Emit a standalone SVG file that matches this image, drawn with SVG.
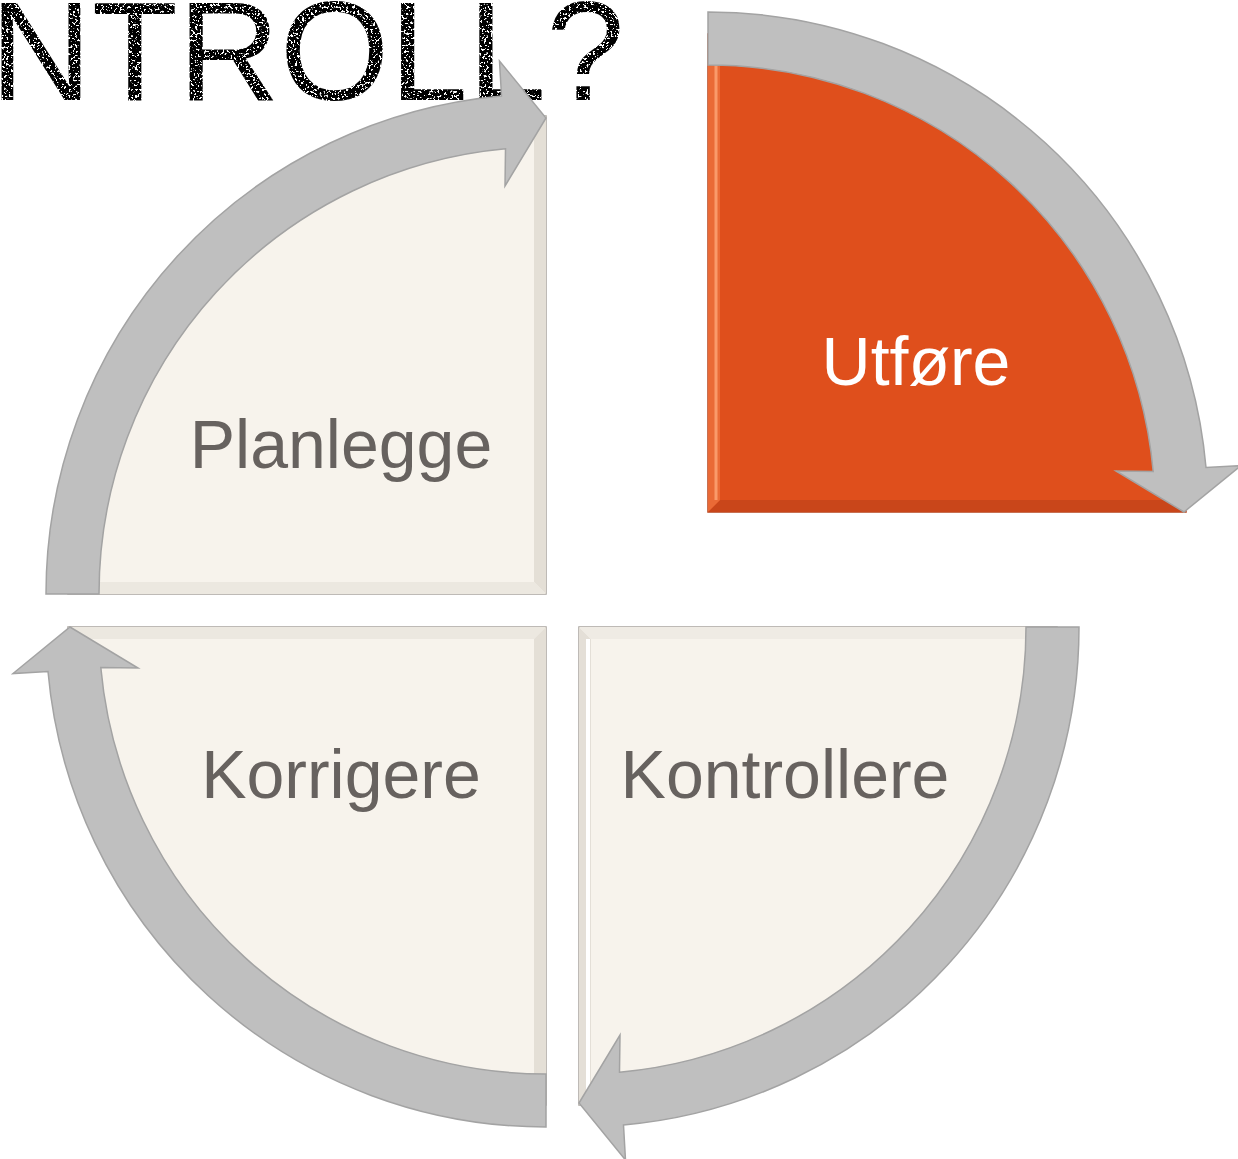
<svg xmlns="http://www.w3.org/2000/svg" width="1238" height="1159" viewBox="0 0 1238 1159">
<defs>
<style>
.sec{fill:#F7F3EC;stroke:#A9A49E;stroke-width:1.5}
.sec-hot{fill:#DF4F1C;stroke:#B5411A;stroke-width:1.5}
.arrow{fill:#BFBFBF;stroke:#A3A3A3;stroke-width:1.5;stroke-linejoin:miter}
.lbl{font-family:"Liberation Sans",Arial,sans-serif;font-size:68px;fill:#67625F;text-anchor:middle}
.lbl-hot{fill:#FFFFFF}
.title{font-family:"Liberation Sans",Arial,sans-serif;font-size:141px;fill:#000000}
</style>
<filter id="grunge" x="0" y="0" width="100%" height="100%">
<feTurbulence type="fractalNoise" baseFrequency="0.45" numOctaves="2" seed="7" result="n"/>
<feColorMatrix in="n" type="matrix" values="0 0 0 0 0  0 0 0 0 0  0 0 0 0 0  -20 0 0 0 12.6" result="m"/>
<feComposite in="SourceGraphic" in2="m" operator="in"/>
</filter>
<path id="sector" d="M0 0 L-478 0 A478 478 0 0 1 0 -478 Z"/>
<path id="bevA" d="M0 0 L0 -478 L-12 -478 L-12 -12 Z"/>
<path id="bevB" d="M0 0 L-478 0 L-478 -12 L-12 -12 Z"/>
<path id="arr" d="M-500 0 A500 500 0 0 1 -44.5 -498 L-46.5 -533 L0 -476 L-41 -408 L-40.5 -445.2 A447 447 0 0 0 -447 0 Z"/>
</defs>

<rect width="1238" height="1159" fill="#FFFFFF"/>

<text class="title" x="-10" y="100" filter="url(#grunge)">NTROLL?</text>

<g id="node-planlegge">
<g transform="translate(546,594)">
<use href="#sector" class="sec"/>
<use href="#bevA" fill="#E4DFD6"/>
<use href="#bevB" fill="#ECE8E0"/>
</g>
<text class="lbl" x="341" y="468">Planlegge</text>
</g>

<g id="node-utfore">
<g transform="translate(708,512) rotate(90)">
<use href="#sector" class="sec-hot"/>
<use href="#bevA" fill="#C9461A"/>
<use href="#bevB" fill="#EA6A36"/>
<path d="M-478 -8 L-12 -8" stroke="#FA9A6A" stroke-width="3" fill="none"/>
</g>
<text class="lbl lbl-hot" x="916" y="385">Utføre</text>
</g>

<g id="node-kontrollere">
<g transform="translate(579,627) rotate(180)">
<use href="#sector" class="sec"/>
<use href="#bevA" fill="#E4DFD7"/>
<use href="#bevB" fill="#EFEBE4"/>
<path d="M-9 -12 L-9 -478" stroke="#FFFFFF" stroke-width="4" fill="none"/>
</g>
<text class="lbl" x="785" y="798">Kontrollere</text>
</g>

<g id="node-korrigere">
<g transform="translate(546,627) rotate(270)">
<use href="#sector" class="sec"/>
<use href="#bevA" fill="#ECE8E0"/>
<use href="#bevB" fill="#E4DFD6"/>
</g>
<text class="lbl" x="341" y="798">Korrigere</text>
</g>

<g id="connectors">
<use href="#arr" class="arrow" transform="translate(546,594)"/>
<use href="#arr" class="arrow" transform="translate(708,512) rotate(90)"/>
<use href="#arr" class="arrow" transform="translate(579,627) rotate(180)"/>
<use href="#arr" class="arrow" transform="translate(546,627) rotate(270)"/>
</g>
</svg>
